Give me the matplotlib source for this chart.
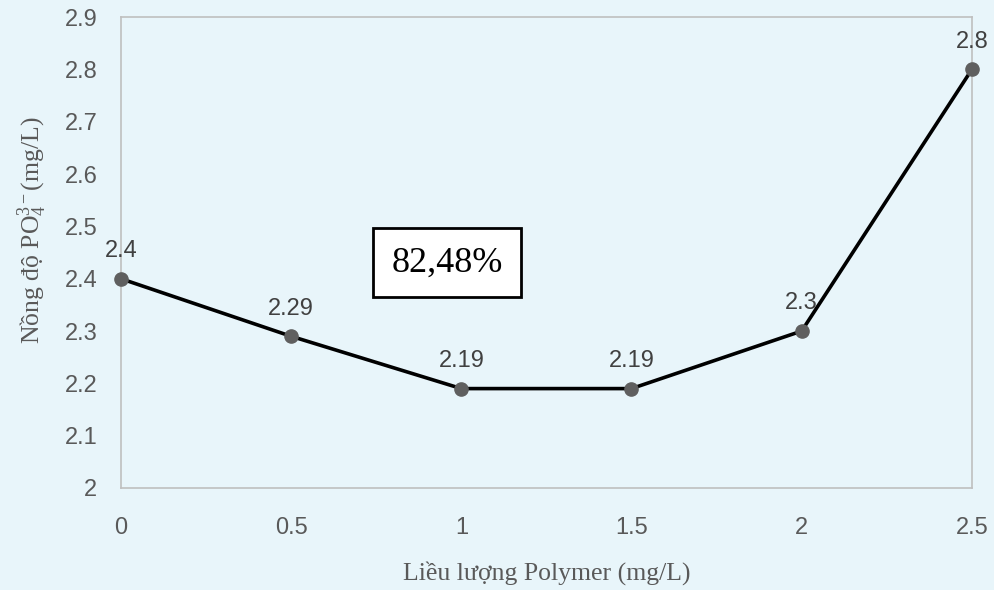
import matplotlib.pyplot as plt

plt.rcParams['mathtext.fontset'] = 'custom'
plt.rcParams['mathtext.rm'] = 'Liberation Serif'
plt.rcParams['mathtext.it'] = 'Liberation Serif:italic'

# data
dose = [0, 0.5, 1, 1.5, 2, 2.5]
po4 = [2.4, 2.29, 2.19, 2.19, 2.3, 2.8]
point_labels = ['2.4', '2.29', '2.19', '2.19', '2.3', '2.8']
x_ticks = [0, 0.5, 1, 1.5, 2, 2.5]
x_ticklabels = ['0', '0.5', '1', '1.5', '2', '2.5']
y_ticks = [2, 2.1, 2.2, 2.3, 2.4, 2.5, 2.6, 2.7, 2.8, 2.9]
y_ticklabels = ['2', '2.1', '2.2', '2.3', '2.4', '2.5', '2.6', '2.7', '2.8', '2.9']
efficiency = '82,48%'

bg = '#e8f5fa'
fig = plt.figure(figsize=(9.94, 5.9), dpi=100, facecolor=bg)
ax = fig.add_axes([0.1217, 0.1729, 0.856, 0.798], facecolor=bg)

ax.plot(dose, po4, color='black', lw=2.6, marker='o', markersize=9.5,
        markerfacecolor='#5f5f5f', markeredgecolor='#5f5f5f', zorder=3,
        clip_on=False)
for x, y, s in zip(dose, po4, point_labels):
    ax.annotate(s, (x, y), xytext=(0, 12), textcoords='offset points',
                ha='center', va='bottom', fontsize=17, color='#404040',
                family='Liberation Sans')

ax.set_xlim(0, 2.5)
ax.set_ylim(2, 2.9)
ax.set_xticks(x_ticks, x_ticklabels)
ax.set_yticks(y_ticks, y_ticklabels)
ax.tick_params(length=0, labelsize=17, labelcolor='#595959')
ax.tick_params(axis='x', pad=21)
ax.tick_params(axis='y', pad=17)
for lab in ax.get_xticklabels() + ax.get_yticklabels():
    lab.set_family('Liberation Sans')
for sp in ax.spines.values():
    sp.set_color('#bfbfbf')
    sp.set_linewidth(1.2)

ax.set_xlabel('Liều lượng Polymer (mg/L)', family='Liberation Serif',
              fontsize=18.5, color='#595959', labelpad=16)
fig.text(32 / 994, 1 - 230 / 590,
         r'Nồng độ PO$\mathregular{_4^{3-}}$(mg/L)',
         family='Liberation Serif', fontsize=18.5, color='#595959',
         rotation=90, ha='center', va='center')

ax.text(0.383, 0.478, efficiency, transform=ax.transAxes, ha='center',
        va='center', fontsize=26, family='Liberation Serif', color='black',
        bbox=dict(boxstyle='square,pad=0.5', facecolor='white',
                  edgecolor='black', linewidth=2))

fig.savefig('out.png', dpi=100, facecolor=bg)
